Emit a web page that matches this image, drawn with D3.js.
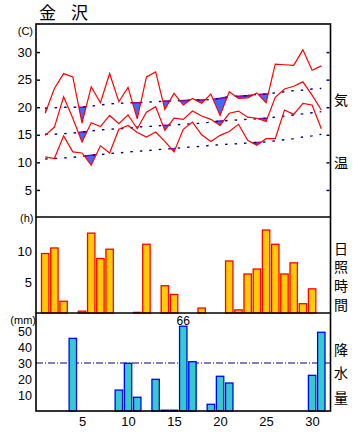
<!DOCTYPE html>
<html><head><meta charset="utf-8">
<script src="https://cdn.jsdelivr.net/npm/d3@7"></script>
<style>body{margin:0;background:#fff} text{font-family:"Liberation Sans",Arial,sans-serif}</style>
</head><body><svg id="c" width="356" height="432"></svg>
<script>
const days = [1,2,3,4,5,6,7,8,9,10,11,12,13,14,15,16,17,18,19,20,21,22,23,24,25,26,27,28,29,30,31];
const tMax = [18.9,23.4,26.1,25.5,17.1,23.7,20.8,26.1,21.0,23.6,17.9,25.5,26.4,19.6,22.5,20.4,21.6,20.7,22.4,18.5,22.8,21.6,21.7,22.6,20.8,27.8,27.7,27.6,30.4,26.7,27.5];
const tMean = [14.9,16.4,21.9,18.0,13.7,17.2,16.5,18.5,17.0,18.6,16.1,19.1,20.1,15.8,18.0,17.8,19.3,18.4,17.8,16.7,18.9,19.3,18.2,18.0,17.4,21.8,23.3,23.8,24.6,22.2,19.5];
const tMin = [11.0,10.7,14.8,11.9,11.7,9.5,13.0,11.7,16.0,16.7,15.4,14.6,15.5,13.8,11.9,16.0,17.3,15.0,13.8,14.9,15.6,16.9,14.0,13.1,14.3,14.3,19.5,18.7,20.7,20.4,16.1];
const nMax = [19.8,19.9,20.0,20.0,20.0,20.2,20.4,20.6,20.7,20.8,20.8,20.9,21.0,21.1,21.1,21.2,21.3,21.3,21.4,21.6,21.9,22.0,22.1,22.3,22.4,22.6,22.8,23.0,23.1,23.3,23.4];
const nMean = [15.1,15.1,15.2,15.3,15.5,15.7,15.9,16.0,16.1,16.2,16.4,16.5,16.6,16.7,16.8,16.9,17.0,17.1,17.3,17.5,17.6,17.7,17.8,17.9,18.0,18.2,18.4,18.6,18.8,19.0,19.2];
const nMin = [10.6,10.7,10.8,10.9,11.1,11.3,11.4,11.6,11.7,11.9,12.0,12.1,12.3,12.4,12.5,12.7,12.8,12.9,13.1,13.2,13.3,13.4,13.5,13.6,13.7,13.9,14.1,14.3,14.6,14.8,15.1];
const sunshine = [9.6,10.5,1.9,0,0.3,12.9,8.8,10.3,0,0,0.1,11.1,0,4.4,3.0,0,0,0.8,0,0,8.4,0.5,6.3,7.1,13.4,11.1,6.3,8.1,1.5,3.9,0];
const precip = [0,0,0,45.4,0,0,0,0,13.1,29.8,8.6,0,19.8,0.5,0.5,66,30.8,0,4.2,21.7,17.5,0,0,0,0,0,0,0,0,22.3,49.2];
const tempTicks = [5,10,15,20,25,30];
const sunTicks = [5,10];
const precipTicks = [10,20,30,40,50];
const dayTicks = [5,10,15,20,25,30];
const precipNormalLine = 30;
const precipDisplayCap = 53;

const svg = d3.select("#c");
const L = 36, R = 330.5, T = 24, B1 = 217, B2 = 313, B3 = 411;
const x = d3.scaleLinear().domain([0,32]).range([L,R]);
const yT = d3.scaleLinear().domain([0,35]).range([217.5,24.5]);
const yS = d3.scaleLinear().domain([0,15.5]).range([B2,B1]);
const yP = d3.scaleLinear().domain([0,60]).range([B3,315]);

// title
svg.append("text").attr("x",39).attr("y",19).attr("font-size",17).style("font-family","'Noto Sans CJK JP'").text("金");
svg.append("text").attr("x",71).attr("y",19).attr("font-size",17).style("font-family","'Noto Sans CJK JP'").text("沢");

// below-normal fills
function belowPolys(act, nor){
  const polys=[]; let cur=null;
  for(let i=0;i<days.length;i++){
    const di = act[i]-nor[i];
    if(di<0){ if(!cur){cur=[];} cur.push({d:days[i],n:nor[i],a:act[i]}); }
    if(i<days.length-1){
      const dj = act[i+1]-nor[i+1];
      if((di<0)!==(dj<0) && di!==dj){
        const t = di/(di-dj);
        const v = nor[i]+t*(nor[i+1]-nor[i]);
        const p = {d:days[i]+t,n:v,a:v};
        if(di<0){ cur.push(p); polys.push(cur); cur=null; }
        else { cur=[p]; }
      }
    }
  }
  if(cur) polys.push(cur);
  return polys;
}
const area = d3.area().x(p=>x(p.d)).y0(p=>yT(p.n)).y1(p=>yT(p.a));
const topLine = d3.line().x(p=>x(p.d)).y(p=>yT(p.n));
[[tMax,nMax],[tMean,nMean],[tMin,nMin]].forEach(([a,n])=>{
  belowPolys(a,n).forEach(poly=>{
    svg.append("path").attr("d",area(poly)).attr("fill","#3a6cff");
    svg.append("path").attr("d",topLine(poly)).attr("fill","none").attr("stroke","#8a00b0").attr("stroke-width",1.6);
  });
});

// normal lines
const nLine = d3.line().x((v,i)=>x(days[i])).y(v=>yT(v));
[nMax,nMean,nMin].forEach(n=>{
  svg.append("path").attr("d",nLine(n)).attr("fill","none").attr("stroke","#000080")
    .attr("stroke-width",1.4).attr("stroke-dasharray","2.5,7");
});
// actual lines
[tMax,tMean,tMin].forEach(a=>{
  svg.append("path").attr("d",nLine(a)).attr("fill","none").attr("stroke","#ff0000").attr("stroke-width",1.2);
});

// sunshine bars
const bw = 7.4;
svg.append("g").selectAll("rect").data(days.map((d,i)=>({d,v:sunshine[i]})).filter(o=>o.v>0)).join("rect")
  .attr("x",o=>x(o.d)-bw/2).attr("width",bw)
  .attr("y",o=>yS(o.v)).attr("height",o=>Math.max(0.5,yS(0)-yS(o.v)))
  .attr("fill","#ffcc00").attr("stroke","#ff0000").attr("stroke-width",1.3);

// precip normal dashed line
svg.append("line").attr("x1",L).attr("x2",R).attr("y1",yP(precipNormalLine)).attr("y2",yP(precipNormalLine))
  .attr("stroke","#000080").attr("stroke-width",1).attr("stroke-dasharray","7,2,1,2");

// precip bars
const pdata = days.map((d,i)=>({d,v:precip[i]})).filter(o=>o.v>0);
svg.append("g").selectAll("rect").data(pdata).join("rect")
  .attr("x",o=>x(o.d)-bw/2).attr("width",bw)
  .attr("y",o=>yP(Math.min(o.v,precipDisplayCap))).attr("height",o=>Math.max(0.5,yP(0)-yP(Math.min(o.v,precipDisplayCap))))
  .attr("fill","#33cccc").attr("stroke","#0000ff").attr("stroke-width",1.3);
svg.append("g").selectAll("text").data(pdata.filter(o=>o.v>precipDisplayCap)).join("text")
  .attr("x",o=>x(o.d)).attr("y",o=>yP(precipDisplayCap)-1.5).attr("text-anchor","middle").attr("font-size",12)
  .text(o=>d3.format("d")(o.v));

// frame
const frame = svg.append("g").attr("stroke","#000").attr("stroke-width",1.6).attr("fill","none");
frame.append("rect").attr("x",L).attr("y",T).attr("width",R-L).attr("height",B3-T);
frame.append("line").attr("x1",L).attr("x2",R).attr("y1",B1).attr("y2",B1);
frame.append("line").attr("x1",L).attr("x2",R).attr("y1",B2).attr("y2",B2);

// axes
function styleAxis(g){ g.select(".domain").remove(); g.selectAll("text").attr("font-size",13).attr("fill","#000").style("font-family","'Liberation Sans',Arial,sans-serif"); }
svg.append("g").attr("transform",`translate(${L},0)`)
  .call(d3.axisLeft(yT).tickValues(tempTicks).tickSizeInner(-3).tickSizeOuter(0).tickPadding(4))
  .call(styleAxis).call(g=>g.selectAll("line").attr("stroke","#000080").attr("stroke-width",1.5).attr("transform","translate(1,0)"));
svg.append("g").attr("transform",`translate(${R},0)`)
  .call(d3.axisRight(yT).tickValues(tempTicks).tickSizeInner(-3).tickSizeOuter(0).tickFormat(""))
  .call(styleAxis).call(g=>g.selectAll("line").attr("stroke","#000080").attr("stroke-width",1.5).attr("transform","translate(-1,0)"));
svg.append("g").attr("transform",`translate(${L},0)`)
  .call(d3.axisLeft(yS).tickValues(sunTicks).tickSize(0).tickPadding(4)).call(styleAxis);
svg.append("g").attr("transform",`translate(${L},0)`)
  .call(d3.axisLeft(yP).tickValues(precipTicks).tickSize(0).tickPadding(4)).call(styleAxis)
  .call(g=>g.selectAll("text").attr("font-size",12.5));
svg.append("g").attr("transform",`translate(0,${B3})`)
  .call(d3.axisBottom(x).tickValues(dayTicks).tickSize(0).tickPadding(6)).call(styleAxis);

// unit labels
const units = [["(C)",33,30.5],["(h)",33.5,218],["(mm)",36,319.5]];
units.forEach(([t,ux,uy])=>svg.append("text").attr("x",ux).attr("y",uy).attr("text-anchor","end")
  .attr("dominant-baseline","central").attr("font-size",11).text(t));

// side labels
const side = [["気",98.5],["温",161.5],["日",247.5],["照",266],["時",284.5],["間",303.5],["降",348.5],["水",371.5],["量",396.5]];
side.forEach(([t,sy])=>svg.append("text").attr("x",341).attr("y",sy).attr("text-anchor","middle")
  .attr("dominant-baseline","central").attr("font-size",14).style("font-family","'Noto Sans CJK JP'").text(t));
</script></body></html>
